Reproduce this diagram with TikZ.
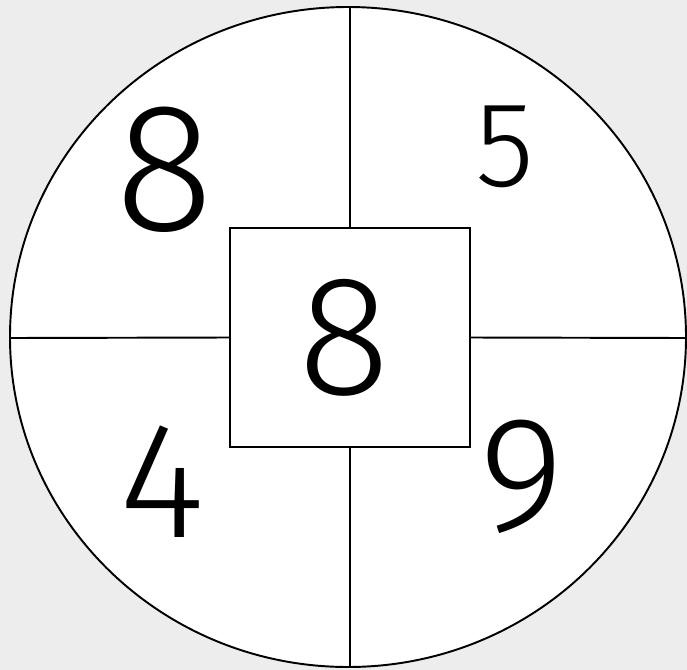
\documentclass[tikz,border=0pt]{standalone}
\usepackage{fontspec}
\newfontfamily\handfont{Fira Sans Light}
\definecolor{bggray}{HTML}{EDEDED}
\tikzset{
  px/.style={x=0.02cm,y=-0.02cm},
  rule/.style={draw=black,line width=1.1pt},
  digit/.style={inner sep=0pt,anchor=center,text=black}
}
\begin{document}
\begin{tikzpicture}[px]
\fill[bggray] (0,0) rectangle (687,670);
\useasboundingbox (0,0) rectangle (687,670);
\coordinate (c) at (348,337);
\filldraw[rule,fill=white] (c) ellipse [x radius=338, y radius=330];
\node[rule,fill=white,minimum width=240*0.02cm,minimum height=219*0.02cm,inner sep=0pt] (sq) at (350,337.5) {};
\coordinate (top) at (350,7);
\coordinate (bot) at (350,667);
\coordinate (lft) at (10,338);
\coordinate (rgt) at (686,338);
\draw[rule] (top) -- (sq.north);
\draw[rule] (sq.south) -- (bot);
\draw[rule] (lft) -- (sq.west);
\draw[rule] (sq.east) -- (rgt);
\node[digit,font=\handfont\fontsize{104}{110}\selectfont] (tl) at (165,170) {8};
\node[digit,font=\handfont\fontsize{69}{75}\selectfont] (tr) at (505,147) {5};
\node[digit,font=\handfont\fontsize{97}{100}\selectfont] (mid) at (344,338) {8};
\node[digit,font=\handfont\fontsize{94}{100}\selectfont] (bl) at (162,482) {4};
\node[digit,font=\handfont\fontsize{93}{100}\selectfont] (br) at (522,477) {9};
\end{tikzpicture}
\end{document}
